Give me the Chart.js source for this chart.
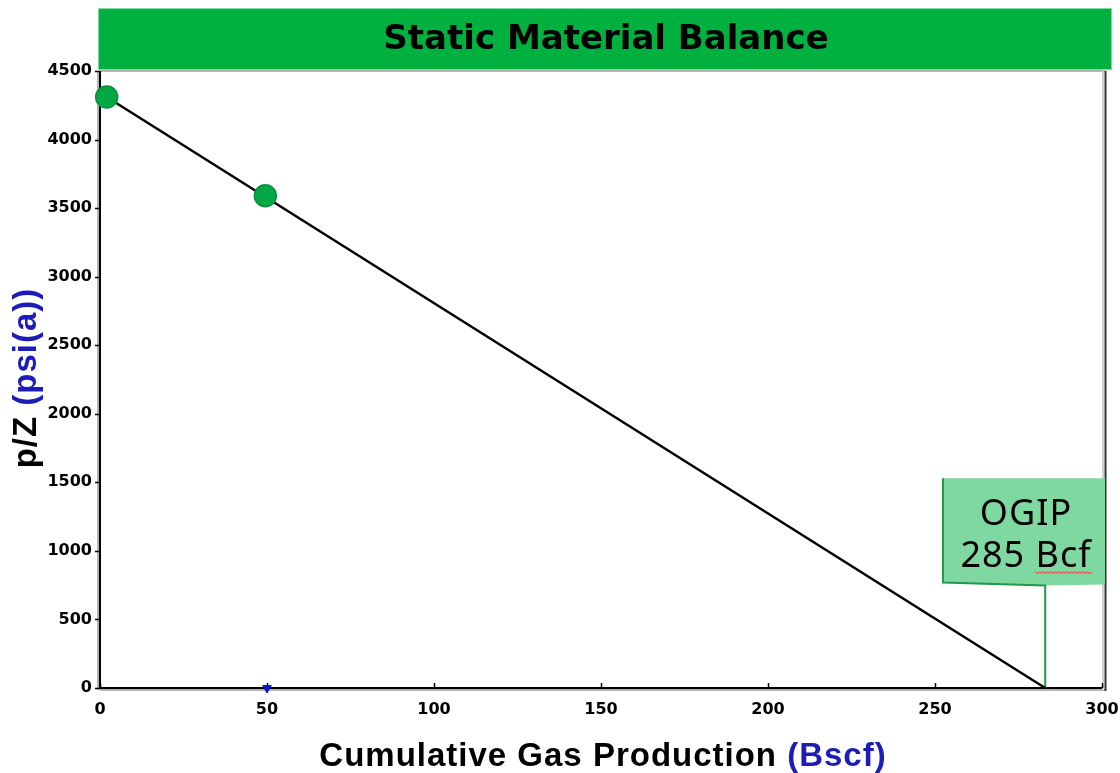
<!DOCTYPE html>
<html>
<head>
<meta charset="utf-8">
<script src="https://cdn.jsdelivr.net/npm/chart.js@4"></script>
<style>
  html, body { margin: 0; padding: 0; background: #fff; }
  #wrap { width: 1120px; height: 773px; }
</style>
</head>
<body>
<div id="wrap"><canvas id="myChart" width="1120" height="773"></canvas></div>
<script>
// data
const measuredGp = [2, 49.5]          // Bscf
const measuredPz = [4310, 3590]       // psi(a)
const fitGp = [2, 283]
const fitPz = [4310, 0]
const markerGp = [50]
const markerPz = [0]
const xTicks = [0, 50, 100, 150, 200, 250, 300]
const yTicks = [0, 500, 1000, 1500, 2000, 2500, 3000, 3500, 4000, 4500]
const ogipGp = 283
const ogipLines = ['OGIP', '285 Bcf']
const calloutBox = { x0: 252.4, yTop: 1530, yBottom: 770 }

const titleText = 'Static Material Balance'

const ctx = document.getElementById('myChart').getContext('2d')

const toPoints = (xs, ys) => xs.map((x, i) => ({ x: x, y: ys[i] }))

// draws title band, frame, axis titles and the OGIP callout
const decorations = {
    id: 'decorations',
    beforeDatasetsDraw(chart) {
        const c = chart.ctx
        const a = chart.chartArea
        const xs = chart.scales.x
        const ys = chart.scales.y
        c.save()

        // frame
        c.lineWidth = 2
        c.strokeStyle = '#b5b5b5'
        c.beginPath(); c.moveTo(a.left, a.top); c.lineTo(a.right + 3, a.top); c.stroke()
        c.beginPath(); c.moveTo(a.left - 2, a.top); c.lineTo(a.left - 2, a.bottom + 2); c.stroke()
        c.beginPath(); c.moveTo(a.left, a.bottom + 2); c.lineTo(a.right + 3, a.bottom + 2); c.stroke()
        c.strokeStyle = '#d0d0d0'
        c.beginPath(); c.moveTo(a.right + 1, a.top); c.lineTo(a.right + 1, a.bottom + 2); c.stroke()
        c.strokeStyle = '#333'
        c.beginPath(); c.moveTo(a.right + 3.5, a.top); c.lineTo(a.right + 3.5, a.bottom + 3); c.stroke()
        c.strokeStyle = '#000'
        c.beginPath(); c.moveTo(a.left, a.top); c.lineTo(a.left, a.bottom); c.stroke()
        c.beginPath(); c.moveTo(a.left, a.bottom); c.lineTo(a.right, a.bottom); c.stroke()

        // small inward x ticks, outward y ticks
        c.lineWidth = 1.5
        xTicks.forEach(v => {
            const px = Math.round(xs.getPixelForValue(v)) + 0.5
            c.beginPath(); c.moveTo(px, a.bottom); c.lineTo(px, a.bottom - 5); c.stroke()
        })
        yTicks.forEach(v => {
            const py = Math.round(ys.getPixelForValue(v)) + 0.5
            c.beginPath(); c.moveTo(a.left, py); c.lineTo(a.left - 5, py); c.stroke()
        })

        // OGIP callout
        const bx0 = xs.getPixelForValue(calloutBox.x0)
        const bx1 = a.right + 3
        const by0 = ys.getPixelForValue(calloutBox.yTop)
        const by1 = ys.getPixelForValue(calloutBox.yBottom)
        const px = xs.getPixelForValue(ogipGp)
        c.fillStyle = '#7fd8a0'
        c.beginPath()
        c.moveTo(bx0, by0); c.lineTo(bx1, by0); c.lineTo(bx1, by1 + 2)
        c.lineTo(px, by1 + 3); c.lineTo(bx0, by1); c.closePath()
        c.fill()
        c.strokeStyle = '#1f9a48'
        c.lineWidth = 2
        c.beginPath()
        c.moveTo(bx0, by0); c.lineTo(bx0, by1); c.lineTo(px, by1 + 3); c.lineTo(px, a.bottom)
        c.stroke()

        c.fillStyle = '#000'
        c.font = '36px "Noto Sans", "Open Sans", sans-serif'
        c.letterSpacing = '1px'
        c.textAlign = 'center'
        c.textBaseline = 'alphabetic'
        const cx = (bx0 + bx1) / 2 + 2
        c.fillText(ogipLines[0], cx, by0 + 47)
        c.fillText(ogipLines[1], cx, by0 + 89)
        // spell-check squiggle under "Bcf"
        const w = c.measureText(ogipLines[1]).width
        const sx1 = cx + w / 2
        const sx0 = sx1 - c.measureText('Bcf').width
        c.strokeStyle = '#e03030'
        c.lineWidth = 1
        c.beginPath()
        for (let x = sx0; x <= sx1; x += 2) {
            const y = by0 + 94 + ((Math.round((x - sx0) / 2) % 2) ? 1.5 : -0.5)
            if (x === sx0) c.moveTo(x, y); else c.lineTo(x, y)
        }
        c.stroke()

        c.restore()
    },
    afterDraw(chart) {
        const c = chart.ctx
        const a = chart.chartArea
        c.save()

        // title band
        c.fillStyle = '#00b140'
        c.fillRect(98, 8, 1014, a.top - 9)
        c.strokeStyle = '#7fdc9f'
        c.lineWidth = 1
        c.strokeRect(98.5, 8.5, 1013, a.top - 10)
        c.fillStyle = '#000'
        c.font = 'bold 34px "DejaVu Sans", Verdana, sans-serif'
        c.textAlign = 'center'
        c.textBaseline = 'middle'
        c.fillText(titleText, 606, 40)

        // x axis title, two colours
        c.font = 'bold 33px "Liberation Sans", Arial, sans-serif'
        c.letterSpacing = '1px'
        c.textBaseline = 'alphabetic'
        c.textAlign = 'left'
        const xt1 = 'Cumulative Gas Production '
        const xt2 = '(Bscf)'
        let w1 = c.measureText(xt1).width
        let w2 = c.measureText(xt2).width
        let sx = 603 - (w1 + w2) / 2
        c.fillStyle = '#000'
        c.fillText(xt1, sx, 766)
        c.fillStyle = '#1c1cb8'
        c.fillText(xt2, sx + w1, 766)

        // y axis title, rotated
        c.translate(36, 378)
        c.rotate(-Math.PI / 2)
        const yt1 = 'p/Z '
        const yt2 = '(psi(a))'
        w1 = c.measureText(yt1).width
        w2 = c.measureText(yt2).width
        sx = -(w1 + w2) / 2
        c.fillStyle = '#000'
        c.fillText(yt1, sx, 0)
        c.fillStyle = '#1c1cb8'
        c.fillText(yt2, sx + w1, 0)

        c.restore()
    }
}

const tickFont = { family: '"DejaVu Sans", Verdana, sans-serif', size: 16, weight: 'bold' }

const chart = new Chart(ctx, {
    type: 'scatter',
    data: {
        datasets: [
            {
                label: 'Fit',
                data: toPoints(fitGp, fitPz),
                showLine: true,
                borderColor: '#000',
                borderWidth: 2.5,
                pointRadius: 0,
                order: 2
            },
            {
                label: 'Measured',
                data: toPoints(measuredGp, measuredPz),
                backgroundColor: '#00a846',
                borderColor: '#0d8f3e',
                borderWidth: 1.5,
                pointRadius: 11,
                order: 1
            },
            {
                label: 'Marker',
                data: toPoints(markerGp, markerPz),
                pointStyle: 'triangle',
                rotation: 180,
                backgroundColor: '#1010d0',
                borderColor: '#1010d0',
                pointRadius: 5,
                order: 0
            }
        ]
    },
    options: {
        responsive: false,
        animation: false,
        clip: false,
        layout: { padding: { top: 71, right: 18, left: 0, bottom: 0 } },
        plugins: {
            legend: { display: false },
            tooltip: { enabled: false },
            title: { display: false }
        },
        scales: {
            x: {
                type: 'linear',
                min: 0,
                max: 300,
                afterBuildTicks: (scale) => { scale.ticks = xTicks.map(v => ({ value: v })) },
                afterFit: (scale) => { scale.height = 85; scale.paddingRight = 0; scale.paddingLeft = 0 },
                grid: { display: false, drawTicks: false },
                border: { display: false },
                ticks: {
                    color: '#000',
                    padding: 12,
                    callback: (v) => String(v),
                    font: tickFont
                }
            },
            y: {
                type: 'linear',
                min: 0,
                max: 4500,
                afterBuildTicks: (scale) => { scale.ticks = yTicks.map(v => ({ value: v })) },
                afterFit: (scale) => { scale.width = 100 },
                grid: { display: false, drawTicks: false },
                border: { display: false },
                ticks: {
                    color: '#000',
                    padding: 8,
                    callback: (v) => String(v),
                    font: tickFont
                }
            }
        }
    },
    plugins: [decorations]
})
</script>
</body>
</html>
